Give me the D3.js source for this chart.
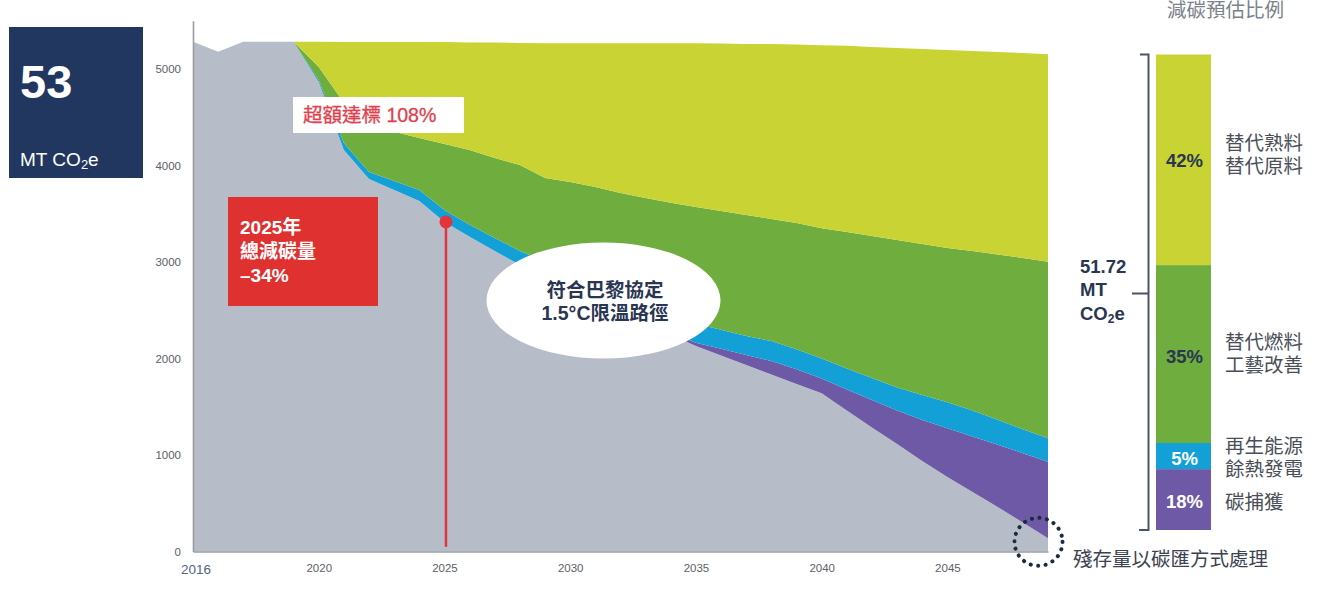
<!DOCTYPE html>
<html>
<head>
<meta charset="utf-8">
<script src="https://cdnjs.cloudflare.com/ajax/libs/d3/7.8.5/d3.min.js"></script>
<style>
body { margin: 0; background: #fff; }
svg text { font-family: "Liberation Sans", "Noto Sans CJK TC", sans-serif; }
</style>
</head>
<body>
<script>
/* emissions by source (kt CO2e per year) */
var years = d3.range(2015, 2050);
var remaining = [5283, 5179, 5283, 5283, 5283, 4865, 4161, 3860, 3746, 3632, 3415, 3262, 3114, 2969, 2849,
                 2731, 2606, 2487, 2368, 2249, 2130, 2031, 1933, 1834, 1736, 1639, 1461, 1285, 1114, 938,
                 772, 617, 461, 301, 137];
var capture = [0, 0, 0, 0, 0, 0, 0, 0, 0, 0, 0, 0, 0, 0, 0, 0, 0, 0, 0,
               16, 34, 69, 104, 140, 152, 153, 218, 285, 348, 425, 505, 574, 645, 717, 794];
var renewable = [0, 0, 0, 0, 0, 21, 73, 73, 93, 114, 124, 124, 135, 145, 155, 166, 176, 176, 187, 187,
                 197, 197, 197, 207, 207, 207, 218, 228, 238, 259, 269, 269, 259, 249, 242];
var fuel = [0, 0, 0, 0, 0, 135, 415, 560, 511, 539, 684, 774, 829, 891, 866, 933, 995, 1052, 1109, 1161,
            1209, 1231, 1254, 1264, 1309, 1352, 1415, 1472, 1527, 1565, 1599, 1654, 1713, 1775, 1830];
var clinker = [0, 0, 0, 0, 0, 262, 632, 788, 930, 995, 1057, 1114, 1197, 1264, 1396, 1437, 1489, 1551, 1603, 1655,
               1696, 1736, 1772, 1814, 1850, 1896, 1928, 1959, 1990, 2021, 2052, 2073, 2099, 2124, 2149];

var xTicks = [2020, 2025, 2030, 2035, 2040, 2045];
var yTicks = [0, 1000, 2000, 3000, 4000, 5000];

/* right hand bar: shares of the reduction */
var shareLabels = ["42%", "35%", "5%", "18%"];
var shareSizes = [44.3, 37.4, 5.5, 12.8]; // heights of the segments as drawn
var shareNames = [["替代熟料", "替代原料"], ["替代燃料", "工藝改善"], ["再生能源", "餘熱發電"], ["碳捕獲"]];

var width = 1342, height = 589;
var keys = ["remaining", "capture", "renewable", "fuel", "clinker"];
var colors = {remaining: "#b7bdc8", capture: "#6e59a6", renewable: "#12a0d7", fuel: "#6fad3f", clinker: "#c9d434"};
var navy = "#22375f", red = "#e1353a", ink = "#2a3552";

var table = years.map(function(y, i) {
    return {year: y, remaining: remaining[i], capture: capture[i], renewable: renewable[i],
            fuel: fuel[i], clinker: clinker[i]};
});

var svg = d3.select("body").append("svg")
    .attr("width", width)
    .attr("height", height);

var xScale = d3.scaleLinear().domain([2015, 2049]).range([193, 1048]);
var yScale = d3.scaleLinear().domain([0, 5500]).range([551.5, 20.75]);

/* stacked areas */
var series = d3.stack().keys(keys)(table);
var area = d3.area()
    .x(function(d) { return xScale(d.data.year); })
    .y0(function(d) { return yScale(d[0]); })
    .y1(function(d) { return yScale(d[1]); });

svg.append("g").selectAll("path")
    .data(series)
    .enter()
    .append("path")
    .attr("d", area)
    .attr("fill", function(d) { return colors[d.key]; });

/* axes */
var xAxis = d3.axisBottom(xScale).tickValues(xTicks).tickSize(0).tickPadding(12).tickFormat(d3.format("d"));
var yAxis = d3.axisLeft(yScale).tickValues(yTicks).tickSize(0).tickPadding(12).tickFormat(d3.format("d"));

var gx = svg.append("g").attr("transform", "translate(0," + yScale(0) + ")").call(xAxis);
var gy = svg.append("g").attr("transform", "translate(" + xScale(2015) + ",0)").call(yAxis);
[gx, gy].forEach(function(g) {
    g.select(".domain").attr("stroke", "#9a9ca2").attr("stroke-width", 1.6);
    g.selectAll("text").attr("fill", "#5d6068").style("font-size", "11.5px");
});

svg.append("text")
    .attr("x", xScale(2015) + 3)
    .attr("y", 574)
    .attr("text-anchor", "middle")
    .attr("fill", "#55627f")
    .style("font-size", "13.5px")
    .text("2016");

/* 2025 marker */
var v2025 = remaining[years.indexOf(2025)];
svg.append("line")
    .attr("x1", xScale(2025) + 1.5).attr("x2", xScale(2025) + 1.5)
    .attr("y1", yScale(v2025)).attr("y2", yScale(50))
    .attr("stroke", red).attr("stroke-width", 2.5);
svg.append("circle")
    .attr("cx", xScale(2025) + 1.5).attr("cy", yScale(v2025))
    .attr("r", 6.5).attr("fill", red);

/* red box */
svg.append("rect").attr("x", 228).attr("y", 197).attr("width", 150).attr("height", 109).attr("fill", "#e03131");
var redLines = ["2025年", "總減碳量", "–34%"];
svg.append("text")
    .attr("fill", "#fff").attr("font-weight", "bold").style("font-size", "19px")
    .selectAll("tspan").data(redLines).enter().append("tspan")
    .attr("x", 240).attr("y", function(d, i) { return 234 + i * 24; })
    .text(function(d) { return d; });

/* overshoot label */
svg.append("rect").attr("x", 293).attr("y", 97).attr("width", 171).attr("height", 36).attr("fill", "#fff");
svg.append("text").attr("x", 303).attr("y", 122)
    .attr("fill", "#e0414e").attr("stroke", "#e0414e").attr("stroke-width", 0.3).style("font-size", "19.5px")
    .text("超額達標 108%");

/* paris ellipse */
svg.append("ellipse")
    .attr("cx", 603.5).attr("cy", 300.5).attr("rx", 117).attr("ry", 58)
    .attr("fill", "#fff");
svg.append("text")
    .attr("fill", ink).attr("font-weight", "bold").attr("text-anchor", "middle").style("font-size", "19.5px")
    .selectAll("tspan").data(["符合巴黎協定", "1.5°C限溫路徑"]).enter().append("tspan")
    .attr("x", 605).attr("y", function(d, i) { return 297 + i * 23; })
    .text(function(d) { return d; });

/* residual circle */
svg.append("circle")
    .attr("cx", xScale(2049) - 9.5).attr("cy", yScale(100))
    .attr("r", 24)
    .attr("fill", "none")
    .attr("stroke", "#1c2b40").attr("stroke-width", 4)
    .attr("stroke-linecap", "round").attr("stroke-dasharray", "0.1 7.45");
svg.append("text").attr("x", 1073).attr("y", 566)
    .attr("fill", "#3d4250").style("font-size", "19.5px")
    .text("殘存量以碳匯方式處理");

/* left summary box */
svg.append("rect").attr("x", 9).attr("y", 27).attr("width", 134).attr("height", 151).attr("fill", navy);
svg.append("text").attr("x", 20).attr("y", 98)
    .attr("fill", "#fff").attr("font-weight", "bold").style("font-size", "47px").text("53");
var mt = svg.append("text").attr("x", 20).attr("y", 166).attr("fill", "#fff").style("font-size", "19px");
mt.append("tspan").text("MT CO");
mt.append("tspan").attr("dy", 3).style("font-size", "13px").text("2");
mt.append("tspan").attr("dy", -3).text("e");

/* share bar */
var barScale = d3.scaleLinear().domain([0, 100]).range([54.5, 530]);
var cum = 0;
var bars = shareSizes.map(function(s, i) {
    var b = {y0: cum, y1: cum + s, i: i};
    cum += s;
    return b;
});
var barColors = [colors.clinker, colors.fuel, colors.renewable, colors.capture];
var barX = 1156, barW = 55;

svg.append("g").selectAll("rect")
    .data(bars).enter().append("rect")
    .attr("x", barX).attr("width", barW)
    .attr("y", function(d) { return barScale(d.y0); })
    .attr("height", function(d) { return barScale(d.y1) - barScale(d.y0); })
    .attr("fill", function(d) { return barColors[d.i]; });

var labelY = [167, 363, 465, 508];
svg.append("g").selectAll("text")
    .data(bars).enter().append("text")
    .attr("x", barX + barW / 2 + 1)
    .attr("y", function(d) { return labelY[d.i]; })
    .attr("text-anchor", "middle")
    .attr("font-weight", "bold")
    .style("font-size", "18.5px")
    .attr("fill", function(d) { return d.i < 2 ? ink : "#fff"; })
    .text(function(d) { return shareLabels[d.i]; });

var nameY = [150, 349, 453, 509];
shareNames.forEach(function(lines, i) {
    svg.append("text")
        .attr("fill", "#4a4e58").style("font-size", "19.5px")
        .selectAll("tspan").data(lines).enter().append("tspan")
        .attr("x", 1225).attr("y", function(d, j) { return nameY[i] + j * 23; })
        .text(function(d) { return d; });
});

svg.append("text").attr("x", 1167).attr("y", 17)
    .attr("fill", "#7c818b").style("font-size", "19.5px").text("減碳預估比例");

/* bracket */
var bracket = d3.path();
bracket.moveTo(1140, barScale(0)); bracket.lineTo(1148.5, barScale(0));
bracket.lineTo(1148.5, barScale(100)); bracket.lineTo(1139, barScale(100));
bracket.moveTo(1132, 293.5); bracket.lineTo(1148.5, 293.5);
svg.append("path").attr("d", bracket.toString())
    .attr("fill", "none").attr("stroke", "#4c5568").attr("stroke-width", 2);

var tot = svg.append("text").attr("fill", ink).attr("font-weight", "bold").style("font-size", "18.5px");
tot.append("tspan").attr("x", 1080).attr("y", 273).text("51.72");
tot.append("tspan").attr("x", 1080).attr("y", 296).text("MT");
tot.append("tspan").attr("x", 1080).attr("y", 320).text("CO");
tot.append("tspan").attr("dy", 3).style("font-size", "12px").text("2");
tot.append("tspan").attr("dy", -3).text("e");
</script>
</body>
</html>
